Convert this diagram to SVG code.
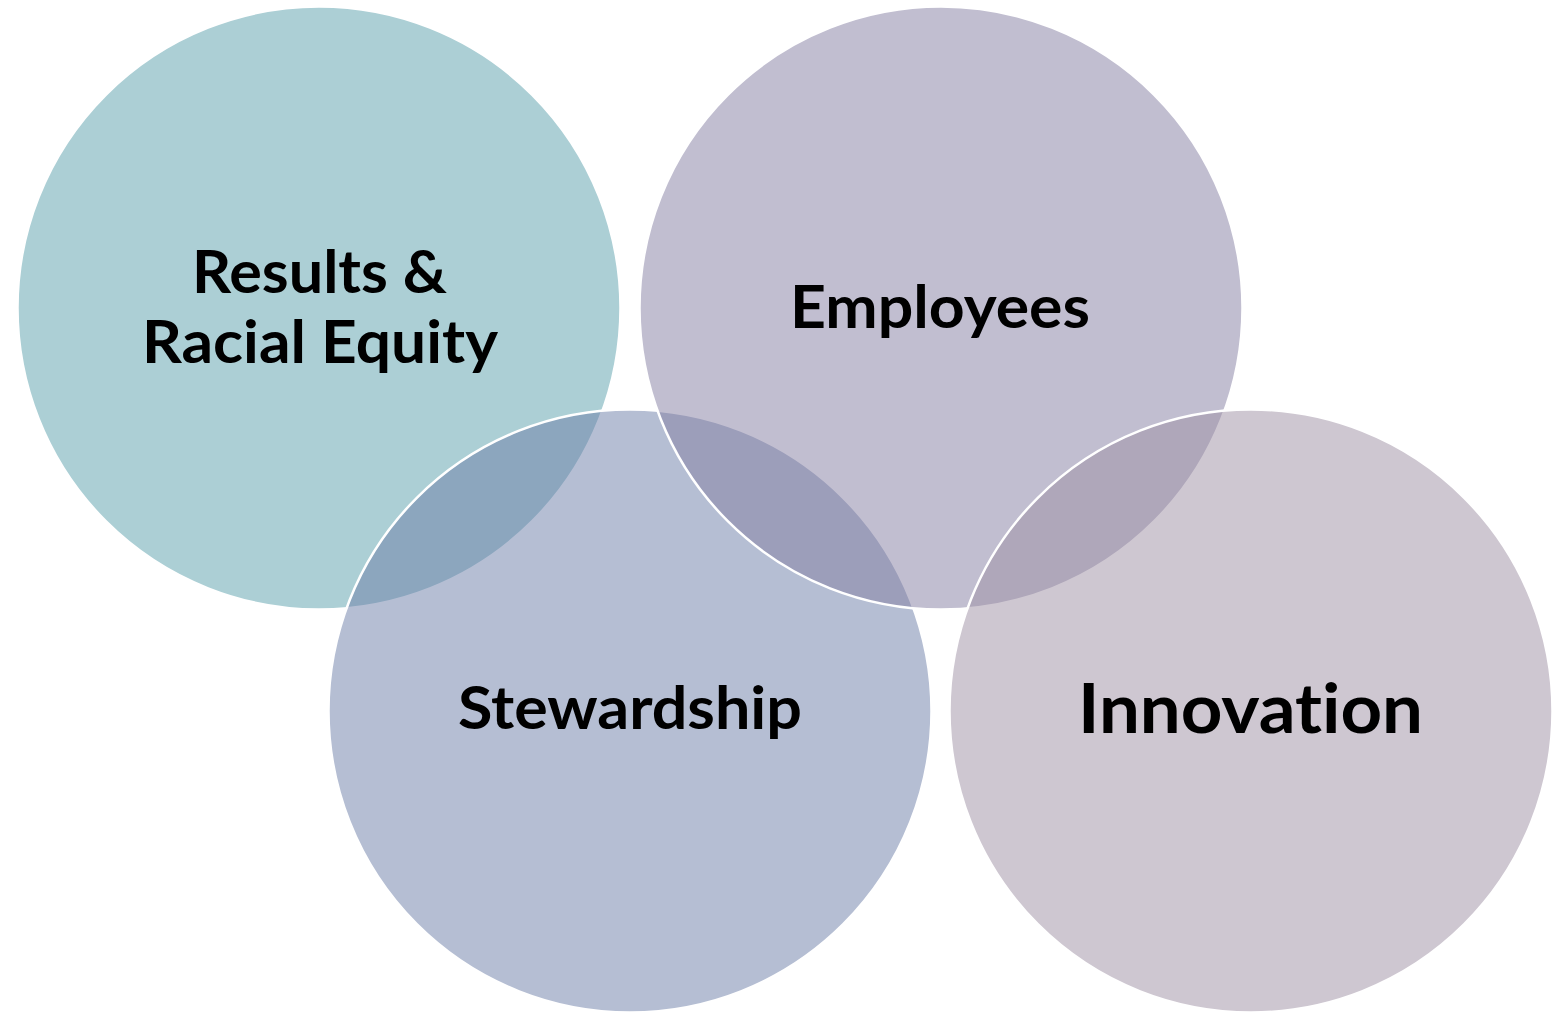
<svg xmlns="http://www.w3.org/2000/svg" width="1561" height="1012" viewBox="0 0 1561 1012">
<style>
.c{fill-opacity:0.5;stroke:#ffffff;stroke-width:2.5}
.t{font-family:Lato,"Open Sans","Liberation Sans",sans-serif;font-weight:bold;fill:#000000;text-anchor:middle;font-variant-ligatures:none;font-feature-settings:"liga" 0,"clig" 0}
</style>
<rect width="1561" height="1012" fill="#ffffff"/>
<g id="results">
<circle class="c" cx="319" cy="308" r="301.5" fill="#599FAB"/>
</g>
<g id="stewardship">
<circle class="c" cx="630" cy="711" r="301.5" fill="#6B7DA7"/>
</g>
<g id="employees">
<circle class="c" cx="941" cy="308" r="301.5" fill="#837DA1"/>
</g>
<g id="innovation">
<circle class="c" cx="1251" cy="711" r="301.5" fill="#9D8FA3"/>
</g>
<g id="labels">
<text class="t" x="319.5" y="293" font-size="60" textLength="255" lengthAdjust="spacingAndGlyphs">Results &amp;</text>
<text class="t" x="320" y="363" font-size="60" textLength="356" lengthAdjust="spacingAndGlyphs">Racial Equity</text>
<text class="t" x="940" y="328" font-size="60" textLength="300" lengthAdjust="spacingAndGlyphs">Employees</text>
<text class="t" x="630" y="729" font-size="60" textLength="344" lengthAdjust="spacingAndGlyphs">Stewardship</text>
<text class="t" x="1250.5" y="733" font-size="69" textLength="345" lengthAdjust="spacingAndGlyphs">Innovation</text>
</g>
</svg>
